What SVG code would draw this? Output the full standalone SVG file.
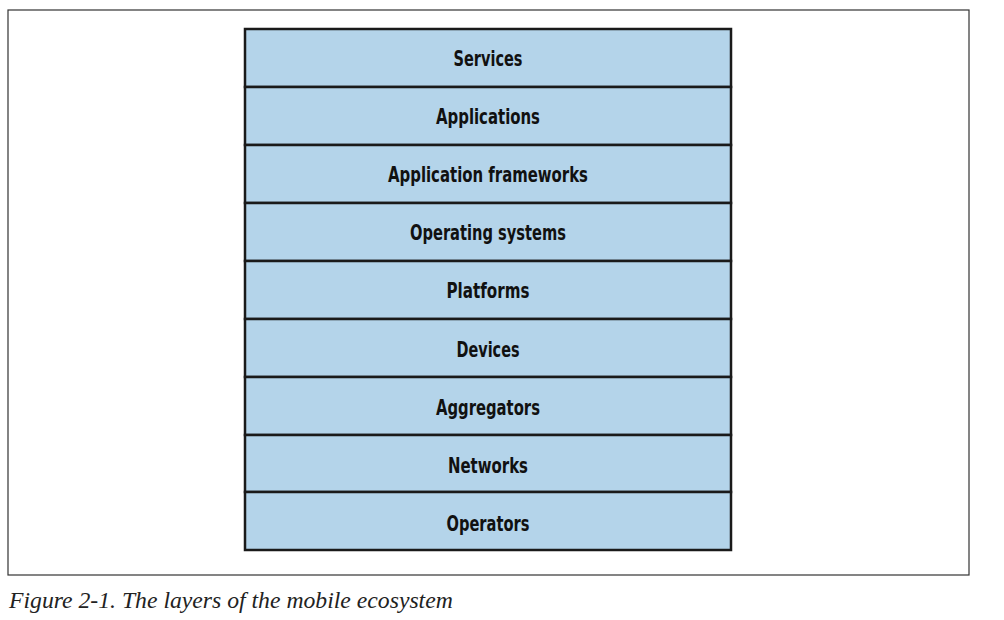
<svg xmlns="http://www.w3.org/2000/svg" width="1004" height="620" viewBox="0 0 1004 620">
<style>
.layer rect{fill:#b4d4ea;stroke:#1a1a1a;stroke-width:2.5}
.layer text{font-family:"DejaVu Sans",sans-serif;font-weight:bold;font-size:21px;fill:#111;text-anchor:middle}
.cap{font-family:"Liberation Serif",serif;font-style:italic;font-size:23.7px;fill:#222}
</style>
<rect x="8" y="10" width="961" height="565" fill="#fff" stroke="#333" stroke-width="1.2"/>
<g id="services" class="layer"><rect x="245" y="29" width="486" height="58"/><text x="488" y="66" textLength="69" lengthAdjust="spacingAndGlyphs">Services</text></g>
<g id="applications" class="layer"><rect x="245" y="87" width="486" height="58"/><text x="488" y="124" textLength="104" lengthAdjust="spacingAndGlyphs">Applications</text></g>
<g id="app-frameworks" class="layer"><rect x="245" y="145" width="486" height="58"/><text x="488" y="182" textLength="200" lengthAdjust="spacingAndGlyphs">Application frameworks</text></g>
<g id="operating-systems" class="layer"><rect x="245" y="203" width="486" height="58"/><text x="488" y="240" textLength="156" lengthAdjust="spacingAndGlyphs">Operating systems</text></g>
<g id="platforms" class="layer"><rect x="245" y="261" width="486" height="58"/><text x="488" y="298" textLength="83" lengthAdjust="spacingAndGlyphs">Platforms</text></g>
<g id="devices" class="layer"><rect x="245" y="319" width="486" height="58"/><text x="488" y="357" textLength="63" lengthAdjust="spacingAndGlyphs">Devices</text></g>
<g id="aggregators" class="layer"><rect x="245" y="377" width="486" height="58"/><text x="488" y="415" textLength="104" lengthAdjust="spacingAndGlyphs">Aggregators</text></g>
<g id="networks" class="layer"><rect x="245" y="435" width="486" height="57"/><text x="488" y="473" textLength="80" lengthAdjust="spacingAndGlyphs">Networks</text></g>
<g id="operators" class="layer"><rect x="245" y="492" width="486" height="58"/><text x="488" y="531" textLength="83" lengthAdjust="spacingAndGlyphs">Operators</text></g>
<g id="connectors"></g>
<text class="cap" x="9" y="608">Figure 2-1. The layers of the mobile ecosystem</text>
</svg>
